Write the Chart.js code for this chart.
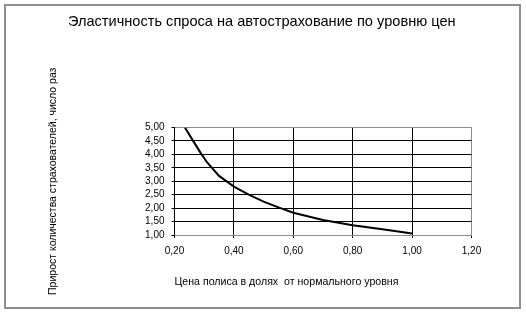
<!DOCTYPE html>
<html>
<head>
<meta charset="utf-8">
<script src="https://cdn.jsdelivr.net/npm/chart.js@4"></script>
<style>
    html, body { margin: 0; padding: 0; background: #fff; }
    #wrap { position: relative; width: 526px; height: 314px; }
    #frame {
        position: absolute; left: 4px; top: 4px; width: 517px; height: 305px;
        box-sizing: border-box; border: 2px solid #8f8f8f; pointer-events: none;
    }
    canvas { position: absolute; left: 0; top: 0; }
</style>
</head>
<body>
<div id="wrap">
    <canvas id="chart" width="526" height="314"></canvas>
    <div id="frame"></div>
</div>
<script>
// price as a share of the normal level
const priceShare = [0.235, 0.26, 0.29, 0.31, 0.35, 0.40, 0.45, 0.50, 0.55, 0.60, 0.70, 0.80, 0.90, 1.00];
// growth of the number of policyholders, times
const growthTimes = [5.00, 4.55, 4.02, 3.70, 3.20, 2.80, 2.50, 2.24, 2.03, 1.83, 1.56, 1.36, 1.21, 1.06];

const xTicks = [0.2, 0.4, 0.6, 0.8, 1.0, 1.2];
const yTicks = [1.0, 1.5, 2.0, 2.5, 3.0, 3.5, 4.0, 4.5, 5.0];

const chartTitle = 'Эластичность спроса на автострахование по уровню цен';
const xTitle = 'Цена полиса в долях  от нормального уровня';
const yTitle = 'Прирост количества страхователей, число раз';

const fmt = v => Number(v).toFixed(2).replace('.', ',');
const font = 'Liberation Sans, Arial, sans-serif';

const points = priceShare.map((x, i) => ({ x: x, y: growthTimes[i] }));

new Chart(document.getElementById('chart'), {
    type: 'scatter',
    data: {
        datasets: [{
            data: points,
            showLine: true,
            borderColor: '#000',
            borderWidth: 2,
            pointRadius: 0,
            tension: 0
        }]
    },
    options: {
        responsive: false,
        animation: false,
        layout: { padding: { left: 52, right: 54.5, top: 4, bottom: 20 } },
        plugins: {
            legend: { display: false },
            tooltip: { enabled: false },
            title: {
                display: true,
                text: chartTitle,
                color: '#000',
                font: { family: font, size: 14.6, weight: 'normal' },
                padding: { top: 9, bottom: 97 }
            }
        },
        scales: {
            x: {
                type: 'linear',
                min: 0.2,
                max: 1.2,
                afterBuildTicks: s => { s.ticks = xTicks.map(v => ({ value: v })); },
                afterFit: s => { s.height = 59; },
                ticks: { color: '#000', font: { family: font, size: 10 }, padding: 7, maxRotation: 0, autoSkip: false, callback: fmt },
                grid: {
                    color: c => (c.index === xTicks.length - 1) ? '#8c8c8c' : '#000',
                    tickColor: '#000',
                    tickLength: 3,
                    lineWidth: 1
                },
                border: { display: true, color: '#8c8c8c', width: 1 },
                title: {
                    display: true,
                    text: xTitle,
                    align: 'start',
                    color: '#000',
                    font: { family: font, size: 10.6 },
                    padding: { top: 0, bottom: 6 }
                }
            },
            y: {
                type: 'linear',
                min: 1,
                max: 5,
                afterBuildTicks: s => { s.ticks = yTicks.map(v => ({ value: v })); },
                afterFit: s => { s.width = 122.5; },
                ticks: { color: '#000', font: { family: font, size: 10 }, padding: 7, autoSkip: false, callback: fmt },
                grid: {
                    color: c => (c.index === 0 || c.index === yTicks.length - 1) ? '#8c8c8c' : '#000',
                    tickColor: '#000',
                    tickLength: 3,
                    lineWidth: 1
                },
                border: { display: true, color: '#000', width: 1 },
                title: {
                    display: true,
                    text: yTitle,
                    color: '#000',
                    font: { family: font, size: 10.5 },
                    padding: { top: -5, bottom: 0 }
                }
            }
        }
    }
});
</script>
</body>
</html>
